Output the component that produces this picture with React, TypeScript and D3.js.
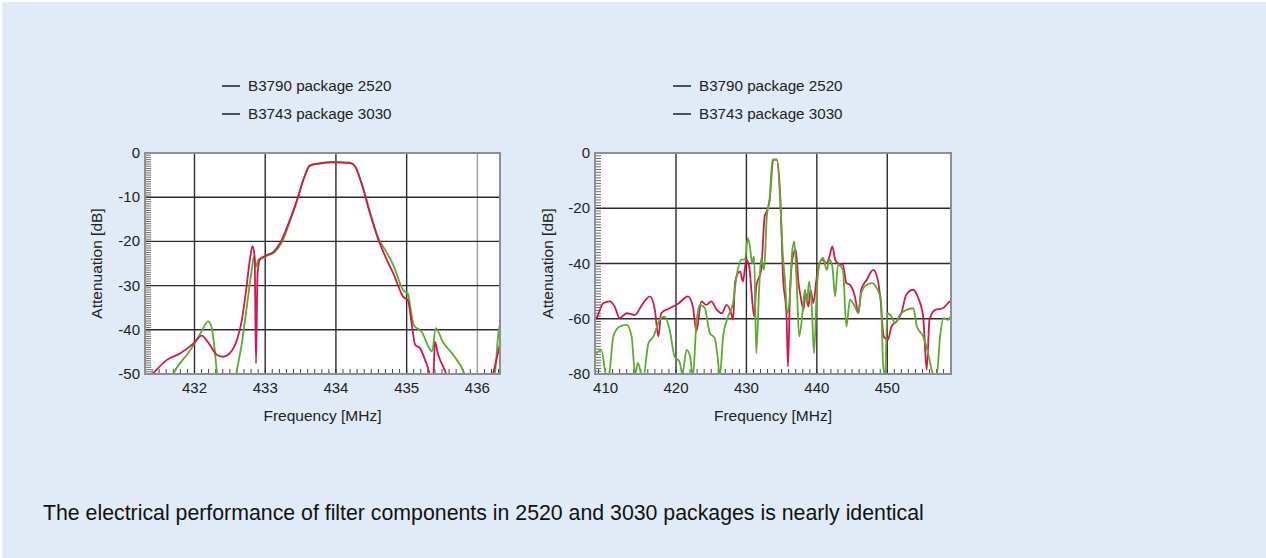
import { useEffect, useRef } from 'react';
import * as d3 from 'd3';

type Pt = [number, number];

// legend / labels
const legendNames = ['B3790 package 2520', 'B3743 package 3030'];
const caption =
  'The electrical performance of filter components in 2520 and 3030 packages is nearly identical';

// left chart: passband detail
const leftXTicks = [432, 433, 434, 435, 436];
const leftYTicks = [0, -10, -20, -30, -40, -50];

const leftRed: Pt[] = [
  [431.3, -52], [431.42, -49.8], [431.61, -46.8], [431.8, -45.3], [431.99, -43.0],
  [432.1, -41.3], [432.2, -43.0], [432.32, -45.7], [432.41, -46.1], [432.5, -45.3],
  [432.6, -42.3], [432.67, -37.8], [432.73, -31.0], [432.79, -23.4], [432.82, -21.1],
  [432.85, -23.4], [432.87, -47.6], [432.89, -27.9], [432.92, -24.2], [433.0, -23.3],
  [433.12, -22.3], [433.21, -20.4], [433.33, -15.9], [433.45, -10.6], [433.54, -6.0],
  [433.63, -2.9], [433.77, -2.4], [433.96, -2.1], [434.2, -2.3], [434.27, -3.0],
  [434.36, -6.8], [434.48, -13.6], [434.6, -19.6], [434.72, -24.2], [434.81, -27.2],
  [434.95, -32.5], [435.02, -33.4], [435.07, -38.5], [435.12, -43.4], [435.19, -44.2],
  [435.26, -46.8], [435.32, -49.8], [435.35, -53], [435.38, -50], [435.4, -42.7],
  [435.44, -45.3], [435.56, -50], [435.65, -55], [436.1, -55], [436.22, -50],
  [436.29, -45.3], [436.35, -41],
];

const leftGreen: Pt[] = [
  [431.62, -53], [431.7, -50], [431.94, -44.6], [432.1, -40.4], [432.19, -38.1],
  [432.24, -39.3], [432.28, -43.8], [432.32, -50], [432.38, -56], [432.53, -56],
  [432.59, -50], [432.67, -43.0], [432.74, -34.7], [432.81, -26.4], [432.84, -23.4],
  [432.87, -25.7], [432.9, -24.2], [433.0, -23.4], [433.14, -22.3], [433.23, -20.4],
  [433.35, -15.5], [433.45, -10.8], [433.54, -6.1], [433.63, -2.8], [433.77, -2.3],
  [433.96, -2.0], [434.2, -2.2], [434.27, -3.0], [434.36, -6.6], [434.48, -13.2],
  [434.6, -19.3], [434.71, -22.3], [434.81, -25.3], [434.95, -31.0], [435.02, -31.9],
  [435.05, -34.7], [435.1, -38.9], [435.21, -40.4], [435.36, -44.9], [435.41, -39.6],
  [435.51, -42.7], [435.66, -45.7], [435.82, -50], [435.9, -54], [436.2, -54],
  [436.26, -48], [436.29, -41.9], [436.35, -37],
];

// right chart: wideband
const rightXTicks = [410, 420, 430, 440, 450];
const rightXGrid = [420, 430, 440, 450];
const rightYTicks = [0, -20, -40, -60, -80];

const rightRed: Pt[] = [
  [408.5, -60.5], [408.7, -59.8], [409.7, -54.3], [410.6, -53.7], [411.3, -55.6], [412.0, -59.8],
  [413.0, -58.0], [414.2, -58.6], [415.1, -55.3], [416.3, -51.9], [417.0, -56.8],
  [417.5, -66.4], [417.9, -58.0], [419.1, -56.2], [420.3, -54.6], [421.7, -51.9],
  [422.4, -55.6], [422.9, -64.6], [423.6, -53.7], [424.3, -55.0], [425.0, -53.7],
  [425.8, -56.8], [426.5, -58.0], [427.2, -55.0], [427.9, -58.6], [428.1, -60.4],
  [428.4, -46.5], [429.1, -42.9], [429.5, -46.5], [430.0, -38.6], [430.4, -41.1],
  [430.7, -49.5], [431.1, -59.2], [431.4, -48.3], [432.1, -42.3], [432.6, -22.9],
  [432.9, -21.1], [433.3, -16.9], [433.8, -2.4], [434.3, -2.4], [434.8, -15.7],
  [435.2, -44.7], [435.7, -59.2], [435.9, -77.3], [436.2, -49.5], [436.6, -37.4],
  [437.0, -35.0], [437.4, -47.1], [437.7, -51.9], [438.1, -56.8], [438.4, -50.7],
  [438.8, -55.6], [439.1, -49.5], [439.5, -54.3], [440.0, -44.7], [440.7, -38.6],
  [441.4, -39.9], [441.8, -37.4], [442.2, -33.8], [442.6, -38.6], [443.0, -39.9],
  [443.7, -40.5], [444.2, -47.1], [444.7, -47.7], [445.4, -51.9], [445.9, -58.0],
  [446.3, -49.5], [447.1, -45.9], [448.0, -42.3], [448.6, -45.3], [449.0, -51.9],
  [449.5, -66.4], [450.1, -67.6], [450.6, -62.8], [451.3, -61.0], [452.0, -58.0],
  [452.7, -51.3], [453.7, -49.5], [454.4, -52.5], [455.1, -59.2], [455.6, -78.5],
  [456.0, -60.4], [456.8, -56.8], [457.9, -56.2], [458.9, -53.7], [459.1, -53.5],
];

const rightGreen: Pt[] = [
  [408.5, -73], [408.7, -72.5], [409.4, -71.3], [409.9, -78.5], [410.2, -83], [410.6, -78.5],
  [411.1, -66.4], [412.0, -62.8], [413.0, -62.2], [413.7, -66.4], [414.2, -80],
  [414.6, -76], [415.3, -82], [416.1, -68.8], [416.8, -66.4], [417.7, -60.4],
  [418.4, -59.2], [419.1, -64.0], [419.8, -73.7], [420.5, -75.5], [420.9, -80],
  [421.5, -71.3], [422.0, -73.7], [422.4, -81], [422.9, -61.6], [423.4, -55.0],
  [424.1, -56.2], [424.8, -65.2], [425.5, -67.0], [426.0, -76.1], [426.2, -81],
  [426.7, -66.4], [427.4, -59.2], [428.1, -54.3], [428.6, -44.7], [429.3, -38.6],
  [429.8, -38.6], [430.2, -30.8], [430.5, -33.8], [430.8, -39.9], [431.1, -37.4],
  [431.4, -72.5], [431.8, -49.5], [432.1, -38.0], [432.5, -42.3], [432.9, -22.9],
  [433.3, -16.9], [433.7, -2.4], [434.3, -2.4], [434.8, -16.9], [435.1, -33.8],
  [435.5, -47.1], [435.8, -58.0], [436.2, -50.7], [436.5, -35.6], [436.8, -32.0],
  [437.1, -44.7], [437.5, -66.4], [438.0, -56.8], [438.3, -49.5], [438.6, -54.3],
  [438.9, -46.5], [439.3, -56.8], [439.6, -72.5], [440.0, -49.5], [440.4, -39.9],
  [440.9, -38.0], [441.4, -42.3], [441.8, -38.6], [442.2, -41.1], [442.6, -51.9],
  [443.0, -40.5], [443.7, -42.3], [444.2, -62.8], [444.7, -53.1], [445.4, -55.6],
  [445.9, -58.0], [446.3, -50.7], [447.1, -47.7], [447.8, -47.1], [448.5, -48.9],
  [449.1, -53.1], [449.4, -76.1], [449.7, -81], [450.0, -58.0], [450.6, -59.2],
  [451.1, -61.6], [451.8, -58.6], [452.7, -56.8], [453.7, -56.2], [454.2, -62.8],
  [455.1, -66.4], [455.8, -72.5], [456.5, -80], [457.0, -81], [457.5, -66.4],
  [458.0, -59.8], [458.6, -60.4], [459.0, -59.2], [459.1, -59.0],
];

const RED = '#d4174b';
const GREEN = '#5aab2f';
const FONT = '"Liberation Sans", Arial, Helvetica, sans-serif';

interface PanelCfg {
  id: string;
  left: number;
  right: number;
  top: number;
  bottom: number;
  xDomain: [number, number];
  yDomain: [number, number];
  xTicks: number[];
  xGrid: number[];
  lightGrid: number[];
  yTicks: number[];
  xMinor: number;
  yMinor: number;
  legendX: number;
  yLabelX: number;
  red: Pt[];
  green: Pt[];
  greenOnTop: boolean;
}

const panels: PanelCfg[] = [
  {
    id: 'l', left: 145, right: 500, top: 153, bottom: 374,
    xDomain: [431.3, 436.32], yDomain: [-50, 0],
    xTicks: leftXTicks, xGrid: [432, 433, 434, 435], lightGrid: [436],
    yTicks: leftYTicks, xMinor: 0.1, yMinor: 0.5,
    legendX: 222, yLabelX: 97, red: leftRed, green: leftGreen, greenOnTop: false,
  },
  {
    id: 'r', left: 595, right: 951, top: 153, bottom: 374,
    xDomain: [408.5, 459.05], yDomain: [-80, 0],
    xTicks: rightXTicks, xGrid: rightXGrid, lightGrid: [],
    yTicks: rightYTicks, xMinor: 1, yMinor: 1,
    legendX: 673, yLabelX: 548, red: rightRed, green: rightGreen, greenOnTop: true,
  },
];

export default function App() {
  const svgRef = useRef<SVGSVGElement>(null);

  useEffect(() => {
    if (!svgRef.current) return;
    const svg = d3.select(svgRef.current);
    svg.selectAll('*').remove();

    svg.append('rect')
      .attr('x', 2).attr('y', 2).attr('width', 1264).attr('height', 556)
      .attr('fill', '#e1eaf7');

    panels.forEach((p) => {
      const x = d3.scaleLinear().domain(p.xDomain).range([p.left, p.right]);
      const y = d3.scaleLinear().domain(p.yDomain).range([p.bottom, p.top]);
      const g = svg.append('g');

      g.append('rect')
        .attr('x', p.left).attr('y', p.top)
        .attr('width', p.right - p.left).attr('height', p.bottom - p.top)
        .attr('fill', '#fff');

      // minor ticks
      const xm = d3.range(Math.ceil(p.xDomain[0] / p.xMinor), Math.floor(p.xDomain[1] / p.xMinor) + 1)
        .map((k) => k * p.xMinor);
      g.selectAll('.xm').data(xm).enter().append('line')
        .attr('x1', (d) => x(d)).attr('x2', (d) => x(d))
        .attr('y1', p.bottom).attr('y2', p.bottom - 5)
        .attr('stroke', '#444').attr('stroke-width', 1);
      const ym = d3.range(Math.ceil(p.yDomain[0] / p.yMinor), 1).map((k) => k * p.yMinor);
      g.selectAll('.ym').data(ym).enter().append('line')
        .attr('x1', p.left).attr('x2', p.left + 6)
        .attr('y1', (d) => y(d)).attr('y2', (d) => y(d))
        .attr('stroke', '#444').attr('stroke-width', 0.8);

      // grid
      g.selectAll('.gx').data(p.xGrid).enter().append('line')
        .attr('x1', (d) => x(d)).attr('x2', (d) => x(d))
        .attr('y1', p.top).attr('y2', p.bottom)
        .attr('stroke', '#2b2b2b').attr('stroke-width', 1.4);
      g.selectAll('.gl').data(p.lightGrid).enter().append('line')
        .attr('x1', (d) => x(d)).attr('x2', (d) => x(d))
        .attr('y1', p.top).attr('y2', p.bottom)
        .attr('stroke', '#9a9a9a').attr('stroke-width', 1.4);
      g.selectAll('.gy').data(p.yTicks.slice(1, -1)).enter().append('line')
        .attr('x1', p.left).attr('x2', p.right)
        .attr('y1', (d) => y(d)).attr('y2', (d) => y(d))
        .attr('stroke', '#2b2b2b').attr('stroke-width', 1.4);

      // curves
      const clipId = `clip-${p.id}`;
      svg.append('clipPath').attr('id', clipId).append('rect')
        .attr('x', p.left).attr('y', p.top)
        .attr('width', p.right - p.left).attr('height', p.bottom - p.top);
      const line = d3.line<Pt>().x((d) => x(d[0])).y((d) => y(d[1])).curve(d3.curveMonotoneX);
      const order = p.greenOnTop
        ? [{ d: p.red, c: RED }, { d: p.green, c: GREEN }]
        : [{ d: p.green, c: GREEN }, { d: p.red, c: RED }];
      order.forEach((s) => {
        g.append('path')
          .attr('d', line(s.d))
          .attr('clip-path', `url(#${clipId})`)
          .attr('fill', 'none')
          .attr('stroke', s.c)
          .attr('stroke-width', 1.8)
          .attr('stroke-linejoin', 'round');
      });

      // frame
      g.append('rect')
        .attr('x', p.left).attr('y', p.top)
        .attr('width', p.right - p.left).attr('height', p.bottom - p.top)
        .attr('fill', 'none').attr('stroke', '#8f8f8f').attr('stroke-width', 2);

      // tick labels
      g.selectAll('.tx').data(p.xTicks).enter().append('text')
        .attr('x', (d) => x(d)).attr('y', p.bottom + 19)
        .attr('text-anchor', 'middle')
        .attr('font-family', FONT).attr('font-size', 15).attr('fill', '#222')
        .text((d) => String(d));
      g.selectAll('.ty').data(p.yTicks).enter().append('text')
        .attr('x', p.left - 5).attr('y', (d) => y(d) + 5)
        .attr('text-anchor', 'end')
        .attr('font-family', FONT).attr('font-size', 15).attr('fill', '#222')
        .text((d) => String(d));

      // axis titles
      g.append('text')
        .attr('x', (p.left + p.right) / 2).attr('y', p.bottom + 47)
        .attr('text-anchor', 'middle')
        .attr('font-family', FONT).attr('font-size', 15.5).attr('fill', '#222')
        .text('Frequency [MHz]');
      g.append('text')
        .attr('transform', `translate(${p.yLabelX + 5},${(p.top + p.bottom) / 2}) rotate(-90)`)
        .attr('text-anchor', 'middle')
        .attr('font-family', FONT).attr('font-size', 15.5).attr('fill', '#222')
        .text('Attenuation [dB]');

      // legend
      legendNames.forEach((name, i) => {
        const ly = 86 + i * 28;
        g.append('line')
          .attr('x1', p.legendX).attr('x2', p.legendX + 18)
          .attr('y1', ly).attr('y2', ly)
          .attr('stroke', '#111').attr('stroke-width', 1.4);
        g.append('text')
          .attr('x', p.legendX + 26).attr('y', ly + 5)
          .attr('font-family', FONT).attr('font-size', 15.2).attr('fill', '#222')
          .text(name);
      });
    });

    svg.append('text')
      .attr('x', 43).attr('y', 520)
      .attr('font-family', FONT).attr('font-size', 21.3).attr('fill', '#111')
      .text(caption);
  }, []);

  return (
    <svg
      ref={svgRef}
      width={1266}
      height={558}
      style={{ position: 'absolute', left: 0, top: 0, background: '#fff' }}
    />
  );
}
